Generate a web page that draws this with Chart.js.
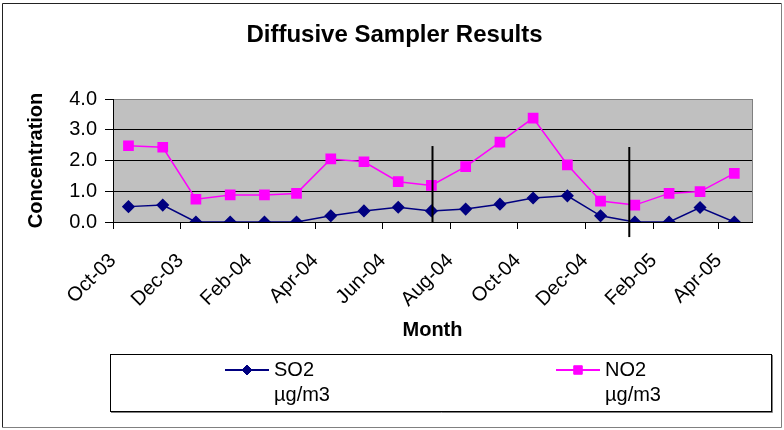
<!DOCTYPE html>
<html>
<head>
<meta charset="utf-8">
<script src="https://cdn.jsdelivr.net/npm/chart.js@4.4.0/dist/chart.umd.min.js"></script>
<style>
  html, body { margin: 0; padding: 0; background: #fff; }
  #wrap { width: 784px; height: 430px; }
</style>
</head>
<body>
<div id="wrap"><canvas id="chart" width="784" height="430"></canvas></div>
<script>
const sampleDates = [
  "2003-10-15", "2003-11-15", "2003-12-15", "2004-01-15", "2004-02-15",
  "2004-03-15", "2004-04-15", "2004-05-15", "2004-06-15", "2004-07-15",
  "2004-08-15", "2004-09-15", "2004-10-15", "2004-11-15", "2004-12-15",
  "2005-01-15", "2005-02-15", "2005-03-15", "2005-04-15"
];
const so2 = [0.5, 0.55, 0, 0, 0, 0, 0.2, 0.36, 0.48, 0.36, 0.42, 0.58, 0.78, 0.85, 0.2, 0, 0, 0.47, 0];
const no2 = [2.48, 2.43, 0.74, 0.88, 0.88, 0.93, 2.05, 1.96, 1.31, 1.19, 1.8, 2.6, 3.38, 1.86, 0.68, 0.55, 0.93, 0.99, 1.58];

const tickDates = [
  "2003-10-01", "2003-12-01", "2004-02-01", "2004-04-01", "2004-06-01",
  "2004-08-01", "2004-10-01", "2004-12-01", "2005-02-01", "2005-04-01"
];
const tickLabels = ["Oct-03", "Dec-03", "Feb-04", "Apr-04", "Jun-04", "Aug-04", "Oct-04", "Dec-04", "Feb-05", "Apr-05"];
const axisStart = "2003-10-01";
const axisEnd = "2005-05-01";
const yTicks = [0, 1, 2, 3, 4];

// the two hand-drawn vertical lines on the original
const markerDates = ["2004-07-16", "2005-01-10"];
const markerTop = [2.47, 2.44];
const markerBottom = [0, -0.49];

const FONT = "Arial, 'Liberation Sans', sans-serif";

const toDay = (iso) => Date.parse(iso + "T00:00:00Z") / 86400000;
const xOf = (iso) => toDay(iso) - toDay(axisStart);

const points = (values) => sampleDates.map((d, i) => ({ x: xOf(d), y: values[i] }));

const chromePlugin = {
  id: "chrome",
  beforeDraw(chart) {
    const { ctx, chartArea: a } = chart;
    ctx.save();
    ctx.fillStyle = "#fff";
    ctx.fillRect(0, 0, chart.width, chart.height);
    ctx.fillStyle = "#c0c0c0";
    ctx.fillRect(a.left, a.top, a.right - a.left, a.bottom - a.top);
    // outer frame
    ctx.lineWidth = 1;
    ctx.strokeStyle = "#222";
    ctx.beginPath();
    ctx.moveTo(2.5, 427.5);
    ctx.lineTo(2.5, 3.5);
    ctx.lineTo(781.5, 3.5);
    ctx.stroke();
    ctx.strokeStyle = "#808080";
    ctx.beginPath();
    ctx.moveTo(781.5, 3.5);
    ctx.lineTo(781.5, 427.5);
    ctx.lineTo(2.5, 427.5);
    ctx.stroke();
    ctx.restore();
  },
  beforeDatasetsDraw(chart) {
    const { ctx, chartArea: a } = chart;
    ctx.save();
    ctx.strokeStyle = "#808080";
    ctx.lineWidth = 1;
    ctx.beginPath();
    ctx.moveTo(Math.round(a.right) + 0.5, a.bottom);
    ctx.lineTo(Math.round(a.right) + 0.5, a.top);
    ctx.stroke();
    ctx.restore();
  },
  afterDatasetsDraw(chart) {
    const { ctx, scales } = chart;
    ctx.save();
    ctx.strokeStyle = "#000";
    ctx.lineWidth = 2;
    markerDates.forEach((d, i) => {
      const x = scales.x.getPixelForValue(xOf(d));
      ctx.beginPath();
      ctx.moveTo(x, scales.y.getPixelForValue(markerTop[i]));
      ctx.lineTo(x, scales.y.getPixelForValue(markerBottom[i]));
      ctx.stroke();
    });
    ctx.restore();
  },
  afterDraw(chart) {
    const { ctx } = chart;
    ctx.save();
    // legend box
    ctx.strokeStyle = "#808080";
    ctx.lineWidth = 1;
    ctx.beginPath();
    ctx.moveTo(772.5, 355);
    ctx.lineTo(772.5, 412.5);
    ctx.lineTo(111, 412.5);
    ctx.stroke();
    ctx.strokeStyle = "#000";
    ctx.strokeRect(110.5, 354.5, 661, 57);

    const items = [
      { ds: chart.data.datasets[0], x: 225 },
      { ds: chart.data.datasets[1], x: 556 }
    ];
    items.forEach(({ ds, x }) => {
      const y = 370;
      ctx.strokeStyle = ds.borderColor;
      ctx.lineWidth = 2;
      ctx.beginPath();
      ctx.moveTo(x, y);
      ctx.lineTo(x + 44, y);
      ctx.stroke();
      ctx.fillStyle = ds.backgroundColor;
      ctx.strokeStyle = ds.borderColor;
      ctx.lineWidth = 1;
      Chart.helpers.drawPoint(ctx, { pointStyle: ds.pointStyle, radius: ds.pointRadius - 0.5, borderWidth: 1, rotation: 0 }, x + 22, y);
      ctx.fillStyle = "#000";
      ctx.font = `20px ${FONT}`;
      ctx.textBaseline = "middle";
      ctx.textAlign = "left";
      ctx.fillText(ds.label, x + 49, y);
      ctx.fillText("µg/m3", x + 49, y + 25);
    });
    ctx.restore();
  }
};

new Chart(document.getElementById("chart"), {
  type: "line",
  data: {
    datasets: [
      {
        label: "SO2",
        data: points(so2),
        borderColor: "#000080",
        backgroundColor: "#000080",
        borderWidth: 1.5,
        pointStyle: "rectRot",
        pointRadius: 5.5,
        pointHoverRadius: 5.5,
        tension: 0
      },
      {
        label: "NO2",
        data: points(no2),
        borderColor: "#ff00ff",
        backgroundColor: "#ff00ff",
        borderWidth: 1.5,
        pointStyle: "rect",
        pointRadius: 6.5,
        pointHoverRadius: 6.5,
        tension: 0
      }
    ]
  },
  options: {
    responsive: false,
    animation: false,
    devicePixelRatio: 1,
    events: [],
    layout: { padding: { left: 37, right: 32, top: 0, bottom: 85 } },
    plugins: {
      legend: { display: false },
      tooltip: { enabled: false },
      title: {
        display: true,
        text: "Diffusive Sampler Results",
        color: "#000",
        font: { family: FONT, size: 24, weight: "bold" },
        padding: { top: 20.6, bottom: 49.6 }
      }
    },
    scales: {
      x: {
        type: "linear",
        min: 0,
        max: xOf(axisEnd),
        afterBuildTicks: (s) => { s.ticks = tickDates.map((d) => ({ value: xOf(d) })); },
        afterFit: (s) => { s.height = 123; },
        ticks: {
          autoSkip: false,
          minRotation: 45,
          maxRotation: 45,
          padding: 20,
          color: "#000",
          font: { family: FONT, size: 20 },
          callback: (v, i) => tickLabels[i]
        },
        grid: { drawOnChartArea: false, drawTicks: true, tickLength: 7, tickColor: "#000" },
        border: { color: "#000", width: 1 },
        title: {
          display: true,
          text: "Month",
          color: "#000",
          font: { family: FONT, size: 20, weight: "bold" },
          padding: { top: 0, bottom: 3 }
        }
      },
      y: {
        min: 0,
        max: 4,
        afterBuildTicks: (s) => { s.ticks = yTicks.map((v) => ({ value: v })); },
        afterFit: (s) => { s.width = 113 - 37; },
        ticks: {
          padding: 8,
          color: "#000",
          font: { family: FONT, size: 20 },
          callback: (v) => v.toFixed(1)
        },
        grid: {
          color: (c) => (c.tick && c.tick.value === 4 ? "#808080" : "#000"),
          tickColor: "#000",
          tickLength: 8,
          lineWidth: 1
        },
        border: { color: "#000", width: 1 },
        title: {
          display: true,
          text: "Concentration",
          color: "#000",
          font: { family: FONT, size: 20, weight: "bold" },
          padding: { top: -13, bottom: 0 }
        }
      }
    }
  },
  plugins: [chromePlugin]
});
</script>
</body>
</html>
